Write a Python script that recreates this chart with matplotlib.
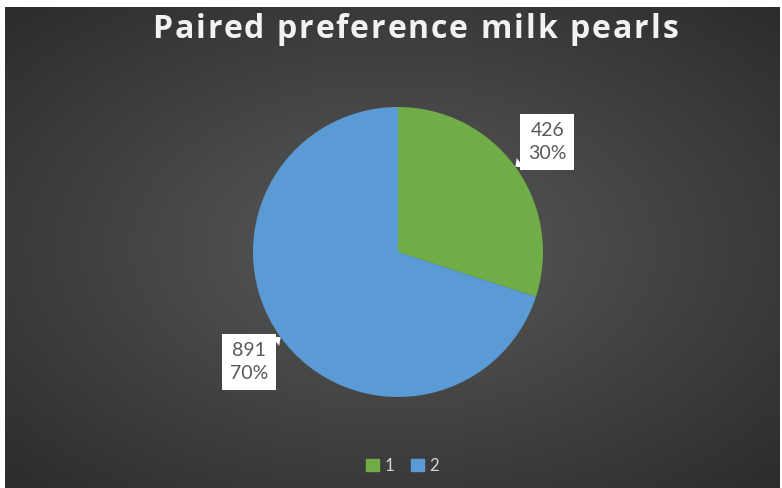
import numpy as np
import matplotlib.pyplot as plt
from matplotlib.patches import Patch

title = "Paired preference milk pearls"
categories = ["1", "2"]
values = [426, 891]
shares = [30, 70]  # percent shown on the chart (slices are drawn with these)
colors = ["#70AD47", "#5B9BD5"]
# label box centres (in pie data units)
label_pos = [(1.03, 0.76), (-1.03, -0.76)]

W, H = 782, 488
fig = plt.figure(figsize=(W / 100, H / 100), dpi=100, facecolor="white")

# dark radial gradient background (white margin at top/left like the screenshot)
bg = fig.add_axes([5 / W, 0, 775 / W, 481 / H])
yy, xx = np.mgrid[-1:1:300j, -1:1:480j]
r = np.sqrt(xx ** 2 + yy ** 2) / np.sqrt(2)
c0 = np.array([0x5a, 0x5a, 0x5a]) / 255
c1 = np.array([0x2c, 0x2c, 0x2c]) / 255
img = c0[None, None, :] * (1 - r[..., None]) + c1[None, None, :] * r[..., None]
bg.imshow(img, aspect="auto", extent=[0, 1, 0, 1])
bg.axis("off")

# pie
cx, cy, rad = 398, 488 - 252, 145
ax = fig.add_axes([(cx - rad) / W, (cy - rad) / H, 2 * rad / W, 2 * rad / H])
wedges, _ = ax.pie(shares, colors=colors, startangle=90, counterclock=False,
                   wedgeprops=dict(linewidth=0))
ax.set_xlim(-1, 1)
ax.set_ylim(-1, 1)
ax.set_aspect("equal")
ax.axis("off")

for w, v, s, pos in zip(wedges, values, shares, label_pos):
    ang = np.deg2rad((w.theta1 + w.theta2) / 2)
    tip = (np.cos(ang), np.sin(ang))
    ax.annotate(f"{v}\n{s}%", xy=tip, xytext=pos,
                ha="center", va="center", fontsize=14, color="#595959",
                family="Lato", linespacing=1.45,
                bbox=dict(boxstyle="square,pad=0.4", fc="white", ec="none"),
                arrowprops=dict(arrowstyle="wedge,tail_width=0.6", fc="white",
                                ec="none", shrinkA=0, shrinkB=0),
                annotation_clip=False)

# title with a little extra letter spacing
tkw = dict(color="#f2f2f2", fontsize=23, fontweight="bold", family="Open Sans",
           va="center", ha="left")
renderer = fig.canvas.get_renderer()


def text_w(s):
    t = fig.text(0, 0, s, **tkw)
    wpx = t.get_window_extent(renderer).width
    t.remove()
    return wpx


spacing = 2.0  # px between letters
ref_w = text_w("H")
offsets = [text_w(title[:i] + "H") - ref_w if i else 0 for i in range(len(title))]
total = text_w(title) + spacing * (len(title) - 1)
x0 = 415 - total / 2
for i, ch in enumerate(title):
    if ch != " ":
        fig.text((x0 + offsets[i] + spacing * i) / W, 1 - 29 / H, ch, **tkw)

handles = [Patch(color=c) for c in colors]
fig.legend(handles, categories, loc="center", bbox_to_anchor=(0.515, 1 - 466 / H),
           ncol=2, frameon=False, labelcolor="#d9d9d9",
           handlelength=0.75, handleheight=0.75, handletextpad=0.35, columnspacing=1.0,
           prop={"family": "Lato", "size": 12})

fig.savefig("out.png", dpi=100, facecolor=fig.get_facecolor())
